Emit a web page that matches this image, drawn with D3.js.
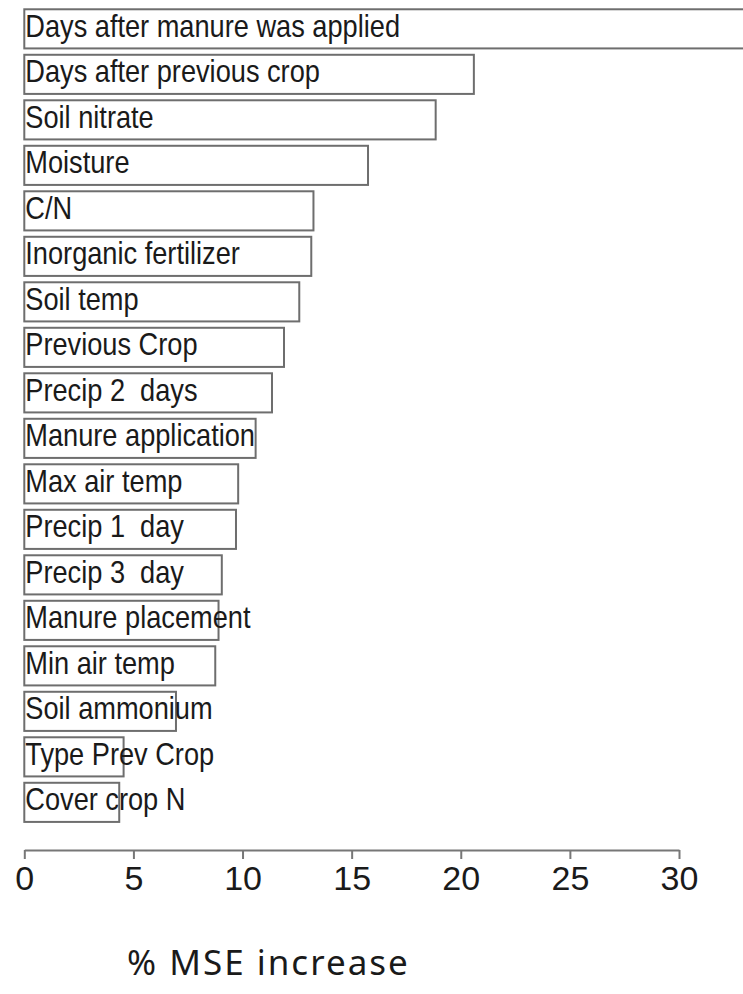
<!DOCTYPE html>
<html>
<head>
<meta charset="utf-8">
<script src="https://cdn.jsdelivr.net/npm/d3@7"></script>
<style>
	html, body { margin: 0; padding: 0; background: #fff; }
	svg { display: block; }
	text { white-space: pre; }
</style>
</head>
<body>
<svg id="chart"></svg>
<script>
const variables = [
	'Days after manure was applied',
	'Days after previous crop',
	'Soil nitrate',
	'Moisture',
	'C/N',
	'Inorganic fertilizer',
	'Soil temp',
	'Previous Crop',
	'Precip 2  days',
	'Manure application',
	'Max air temp',
	'Precip 1  day',
	'Precip 3  day',
	'Manure placement',
	'Min air temp',
	'Soil ammonium',
	'Type Prev Crop',
	'Cover crop N'
];
const mseIncrease = [34, 20.6, 18.85, 15.75, 13.25, 13.15, 12.6, 11.9, 11.35, 10.6, 9.8, 9.7, 9.05, 8.9, 8.75, 6.95, 4.55, 4.35];
const tickValues = [0, 5, 10, 15, 20, 25, 30];
const axisTitle = '% MSE increase';

const width = 743,
	height = 994;

const labelFont = "'Liberation Sans', Arial, sans-serif";

const svg = d3.select('#chart').attr('width', width).attr('height', height);

const x = d3.scaleLinear().domain([0, 30]).range([24.3, 679]);
const y = d3
	.scaleBand()
	.domain(variables)
	.range([6.1, 825.1])
	.paddingInner(0.14)
	.paddingOuter(0.07);

const data = variables.map((name, i) => ({ name, value: mseIncrease[i] }));

// bars: white boxes with grey outline
svg
	.append('g')
	.selectAll('rect')
	.data(data)
	.join('rect')
	.attr('x', x(0))
	.attr('y', d => y(d.name))
	.attr('width', d => x(d.value) - x(0))
	.attr('height', y.bandwidth())
	.attr('fill', '#fff')
	.attr('stroke', '#6e6e6e')
	.attr('stroke-width', 2);

// labels sit inside the bars, a bit stretched vertically like the original
svg
	.append('g')
	.selectAll('text')
	.data(data)
	.join('text')
	.attr('transform', d => `translate(${x(0) + 1}, ${y(d.name) + 27.4}) scale(1, 1.16)`)
	.attr('font-family', labelFont)
	.attr('font-size', 27.2)
	.attr('fill', '#1a1a1a')
	.text(d => d.name);

const axis = svg
	.append('g')
	.attr('transform', 'translate(0, 850)')
	.call(
		d3
			.axisBottom(x)
			.tickValues(tickValues)
			.tickSize(9)
			.tickSizeOuter(0)
			.tickPadding(7)
	)
	.attr('font-family', labelFont);

axis.select('.domain').attr('stroke', '#777').attr('stroke-width', 2);
axis.selectAll('.tick line').attr('stroke', '#777').attr('stroke-width', 2);
axis
	.selectAll('.tick text')
	.attr('font-family', labelFont)
	.attr('font-size', 34)
	.attr('fill', '#1a1a1a');

svg
	.append('text')
	.attr('x', 127)
	.attr('y', 975)
	.attr('font-family', "'Noto Sans', sans-serif")
	.attr('font-size', 35)
	.attr('letter-spacing', 2)
	.attr('fill', '#1a1a1a')
	.text(axisTitle);
</script>
</body>
</html>
